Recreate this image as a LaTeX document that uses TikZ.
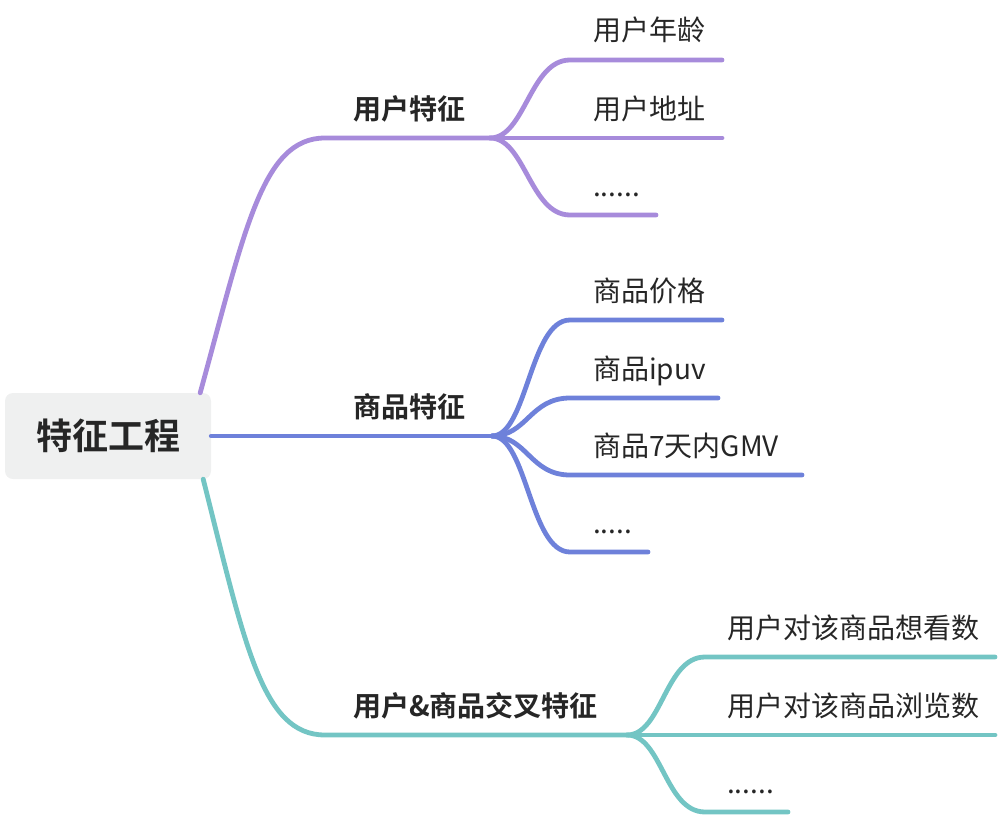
\documentclass[tikz,border=0pt]{standalone}
\usepackage{fontspec}
\setmainfont{Noto Sans CJK SC}[BoldFont={Noto Sans CJK SC Bold}]
\definecolor{purp}{RGB}{167,139,219}
\definecolor{blu}{RGB}{110,129,218}
\definecolor{teal}{RGB}{115,197,196}
\definecolor{rootgray}{RGB}{239,240,240}
\definecolor{txt}{RGB}{38,38,38}
\newcommand{\sixdots}{......}
\newcommand{\fivedots}{.....}
\tikzstyle{root} = [rectangle, rounded corners=8pt, minimum width=206pt, minimum height=86pt, text centered, fill=rootgray, text=txt, font=\fontsize{36}{40}\selectfont\bfseries]
\tikzstyle{topic} = [anchor=base west, inner sep=0pt, text=txt, font=\fontsize{28}{32}\selectfont\bfseries]
\tikzstyle{leaf} = [anchor=base west, inner sep=0pt, text=txt, font=\fontsize{28}{32}\selectfont]
\tikzstyle{branch} = [line width=4.8pt, line cap=round]

\begin{document}
\begin{tikzpicture}[x=1pt, y=-1pt]
        \useasboundingbox (0,0) rectangle (998,816);
        \node[root] (r) at (108,436) {特征工程};

        % 用户特征
        \coordinate (u) at (490,138);
        \node[topic] (ut) at (353,119) {用户特征};
        \draw[branch, purp] ([xshift=-11pt]r.north east) .. controls (245,230) and (262,138) .. (325,138) -- (u);
        \foreach \y/\e/\t [count=\i] in {60/722/用户年龄, 138/722/用户地址, 215/656/\sixdots}
        {
            \coordinate (u\i) at (570,\y);
            \coordinate (ue\i) at (\e,\y);
            \node[leaf] (ul\i) at (593,\y-19) {\t};
            \draw[branch, purp] (u) .. controls +(35,0) and +(-40,0) .. (u\i) -- (ue\i);
        }

        % 商品特征
        \coordinate (g) at (492,436);
        \node[topic] (gt) at (353,417) {商品特征};
        \draw[branch, blu] (r.east) -- (g);
        \foreach \y/\e/\t [count=\i] in {320/722/商品价格, 398/718/商品ipuv, 475/802/商品7天内GMV, 552/648/\fivedots}
        {
            \coordinate (g\i) at (570,\y);
            \coordinate (ge\i) at (\e,\y);
            \node[leaf] (gl\i) at (593,\y-19) {\t};
            \draw[branch, blu] (g) .. controls +(35,0) and +(-40,0) .. (g\i) -- (ge\i);
        }

        % 交叉特征
        \coordinate (c) at (627,735);
        \node[topic] (ct) at (353,716) {用户\&商品交叉特征};
        \draw[branch, teal] ([xshift=-8pt]r.south east) .. controls (245,645) and (262,735) .. (325,735) -- (c);
        \foreach \y/\e/\t [count=\i] in {657/995/用户对该商品想看数, 735/995/用户对该商品浏览数, 812/788/\sixdots}
        {
            \coordinate (c\i) at (705,\y);
            \coordinate (ce\i) at (\e,\y);
            \node[leaf] (cl\i) at (727,\y-19) {\t};
            \draw[branch, teal] (c) .. controls +(35,0) and +(-40,0) .. (c\i) -- (ce\i);
        }
\end{tikzpicture}
\end{document}
